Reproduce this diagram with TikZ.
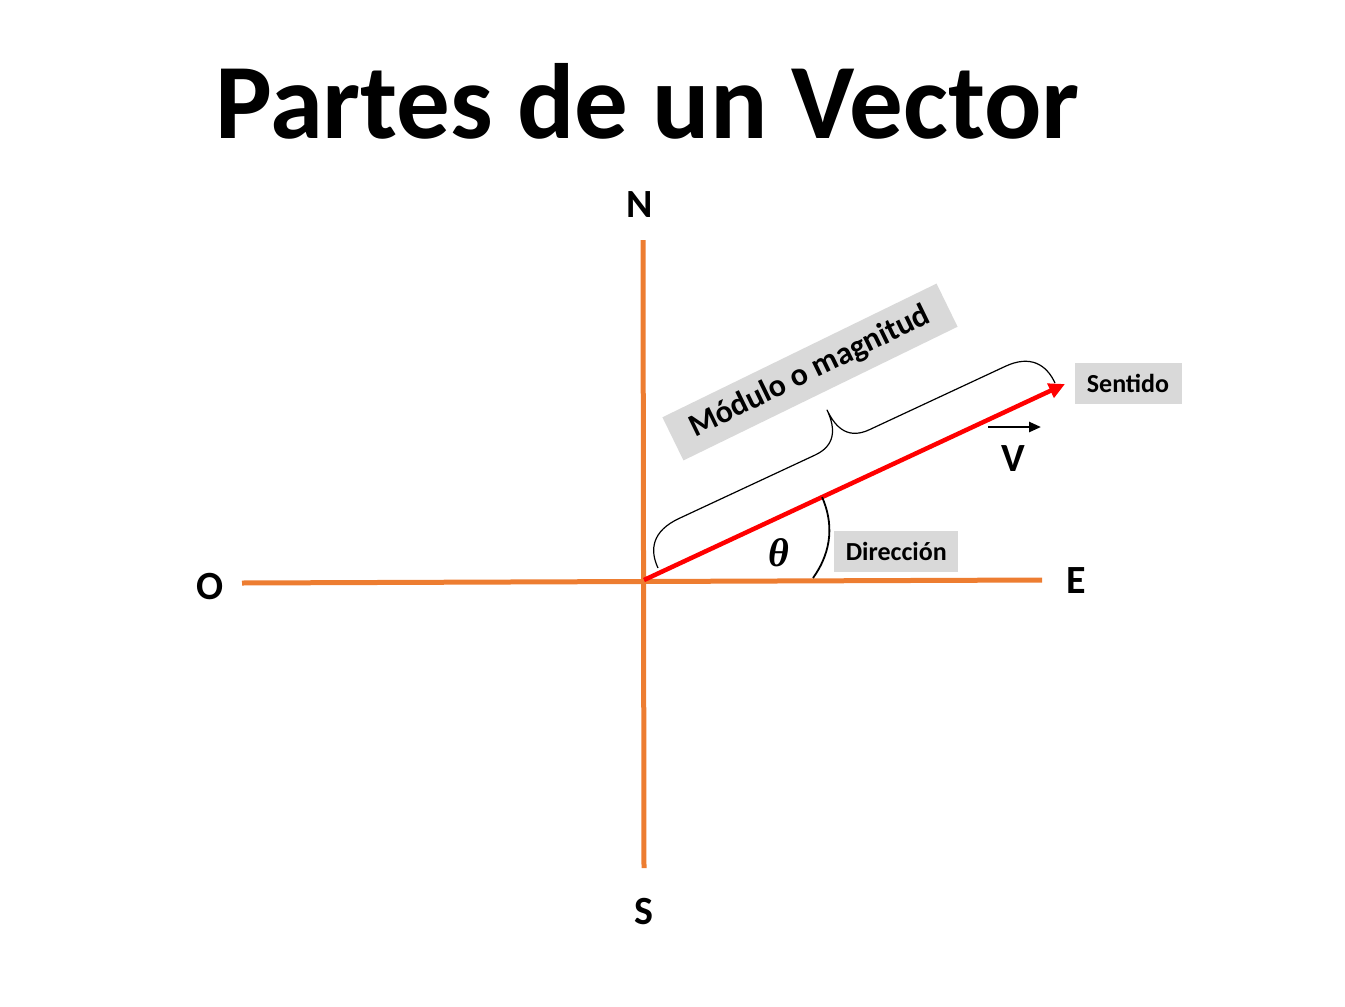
\documentclass[tikz,border=0pt]{standalone}
\usepackage{fontspec}
\setmainfont{Carlito}
\newfontfamily\tetafont{Liberation Serif}
\usetikzlibrary{arrows.meta, calc}

\definecolor{ejenaranja}{HTML}{ED7D31}
\definecolor{cajagris}{HTML}{D9D9D9}

\begin{document}
\begin{tikzpicture}[x=1pt, y=-1pt,
        eje/.style={line width=5pt, ejenaranja},
        punto/.style={font=\fontsize{40}{48}\selectfont\bfseries, anchor=base, inner sep=0pt},
        etiqueta/.style={fill=cajagris, font=\fontsize{26}{30}\selectfont\bfseries, inner sep=0pt, minimum height=41pt}]
            \useasboundingbox (0, 0) rectangle (1345, 1007);

            \node [font=\fontsize{107}{120}\selectfont\bfseries, anchor=base, inner sep=0pt] (titulo) at (647.5, 138) {Partes de un Vector};

            \coordinate (origen) at (644, 580);
            \coordinate (norte) at (643, 240);
            \coordinate (sur) at (644, 868);
            \coordinate (oeste) at (242, 583);
            \coordinate (este) at (1042, 580);
            \draw [eje] (norte) -- (sur);
            \draw [eje] (oeste) -- (este);

            \node [punto] (N) at (640, 217) {N};
            \node [punto] (S) at (644, 924) {S};
            \node [punto] (O) at (210, 599) {O};
            \node [punto] (E) at (1076.5, 593) {E};

            % el vector
            \coordinate (punta) at (1065, 384);
            \draw [line width=4.5pt, red, -{Triangle[length=16pt, width=15pt]}] (origen) -- (punta);

            \node [punto] (V) at (1013, 471.5) {V};
            \coordinate (flechaV) at (988, 427);
            \draw [line width=2.5pt, -{Triangle[length=12pt, width=10pt]}] (flechaV) -- ++(53, 0);

            % angulo
            \coordinate (arcoA) at (813, 578);
            \coordinate (arcoB) at ($(origen)!0.423!(punta)$);
            \draw [line width=1.8pt] (arcoA) .. controls (833, 550) and (833, 522) .. (arcoB);
            \node [font=\tetafont\fontsize{40}{44}\selectfont\bfseries\itshape, anchor=base, inner sep=0pt] (theta) at (779, 566) {θ};

            \node [etiqueta, minimum width=124pt] (direccion) at (896.3, 551.7) {Dirección};
            \node [etiqueta, minimum width=107pt] (sentido) at (1128, 383.8) {Sentido};

            % llave del modulo
            \begin{scope}[shift={(658, 568)}, rotate=25]
                \draw [line width=1.2pt] (0, 0)
                    .. controls (0, -20) and (10, -36) .. (40, -36) -- (190, -36)
                    .. controls (212, -36) and (220, -50) .. (220, -72)
                    .. controls (220, -50) and (228, -36) .. (250, -36) -- (400, -36)
                    .. controls (428, -36) and (438, -20) .. (438, 0);
            \end{scope}
            \node [fill=cajagris, rotate=26, minimum width=305pt, minimum height=48pt, inner sep=0pt,
                   font=\fontsize{32}{36}\selectfont\bfseries] (modulo) at (810, 372) {Módulo o magnitud};

        \end{tikzpicture}
\end{document}
